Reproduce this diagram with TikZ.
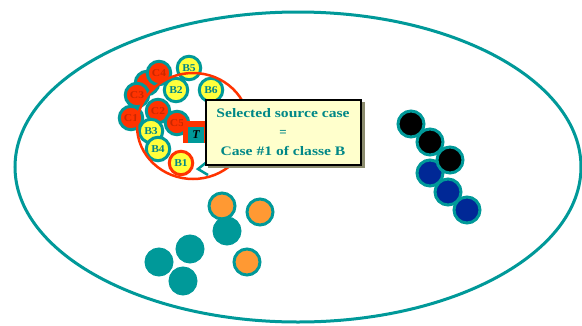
\documentclass[tikz,border=0pt]{standalone}
\usepackage{fontspec}
\setmainfont{Liberation Serif}
\definecolor{tl}{RGB}{0,153,153}
\definecolor{tltext}{RGB}{0,135,135}
\definecolor{rd}{RGB}{255,51,0}
\definecolor{rdtext}{RGB}{200,40,0}
\definecolor{og}{RGB}{255,153,51}
\definecolor{yl}{RGB}{255,255,60}
\definecolor{bl}{RGB}{0,40,150}
\definecolor{bx}{RGB}{255,255,204}
\definecolor{shd}{RGB}{140,140,110}
\tikzset{
  big/.style={circle, draw=tl, line width=3pt, minimum size=26pt, inner sep=0pt},
  sm/.style={circle, draw=tl, line width=3pt, minimum size=23.5pt, inner sep=0pt, font=\bfseries\fontsize{10.5}{10.5}\selectfont},
  bcase/.style={sm, fill=yl, text=tltext},
  ccase/.style={sm, fill=rd, text=rdtext},
}
\begin{document}
\begin{tikzpicture}[x=1pt,y=-1pt]
\useasboundingbox (0,0) rectangle (582,325);
\fill[white] (0,0) rectangle (582,325);
% space
\draw[tl, line width=3pt] (298,167) ellipse [x radius=283, y radius=155];
% bottom clusters
\node[big, fill=og] (o1) at (222,206) {};
\node[big, fill=og] (o2) at (260,212) {};
\node[big, fill=tl] (t1) at (227,231) {};
\node[big, fill=og] (o3) at (247,262) {};
\node[big, fill=tl] (t2) at (190,249) {};
\node[big, fill=tl] (t3) at (159,262) {};
\node[big, fill=tl] (t4) at (183,281) {};
% right cluster
\node[big, fill=black] (k1) at (411,124) {};
\node[big, fill=black] (k2) at (430,142) {};
\node[big, fill=bl] (u1) at (430,173) {};
\node[big, fill=black] (k3) at (450,160) {};
\node[big, fill=bl] (u2) at (448,192) {};
\node[big, fill=bl] (u3) at (467,210) {};
% C cases
\node[ccase] (c0) at (147,83) {};
\node[ccase] (c4) at (159,73) {\scalebox{1.1}[1]{C4}};
\node[ccase] (c3) at (137,95) {\scalebox{1.1}[1]{C3}};
\node[ccase] (c1) at (131,118) {\scalebox{1.1}[1]{C1}};
\node[ccase] (c2) at (158,111) {\scalebox{1.1}[1]{C2}};
\node[ccase] (c5) at (177,123) {\scalebox{1.1}[1]{C5}};
% B cases
\node[bcase] (b5) at (189,68) {\scalebox{1.1}[1]{B5}};
\node[bcase] (b2) at (176,90) {\scalebox{1.1}[1]{B2}};
\node[bcase] (b6) at (211,90) {\scalebox{1.1}[1]{B6}};
\node[bcase] (b3) at (151,131) {\scalebox{1.1}[1]{B3}};
\node[bcase] (b4) at (158,149) {\scalebox{1.1}[1]{B4}};
\node[bcase, draw=rd] (b1) at (181,163) {\scalebox{1.1}[1]{B1}};
% neighbourhood
\draw[rd, line width=2.5pt] (193,126) ellipse [x radius=56, y radius=53];
% target
\node[fill=rd, minimum width=23pt, minimum height=22pt, inner sep=0pt] (tr) at (194,132) {};
\node[fill=tl, minimum size=16pt, inner sep=0pt, text=black, font=\bfseries\itshape\fontsize{12}{12}\selectfont] (tg) at (196,135) {T};
% callout pointer
\coordinate (p1) at (208,161);
\coordinate (p2) at (198,169);
\coordinate (p3) at (208,175);
\draw[tl, line width=2.5pt, line join=miter] (p1) -- (p2) -- (p3);
% callout box
\fill[shd] (208,102) rectangle (365,168);
\node[draw=black, line width=2pt, fill=bx, minimum width=155pt, minimum height=65pt, inner sep=0pt, text=tltext, align=center, font=\bfseries\fontsize{13}{19}\selectfont] (box) at (283,132) {\scalebox{1.2}[1]{Selected source case}\\=\\\scalebox{1.2}[1]{Case \#1 of classe B}};
\end{tikzpicture}
\end{document}
